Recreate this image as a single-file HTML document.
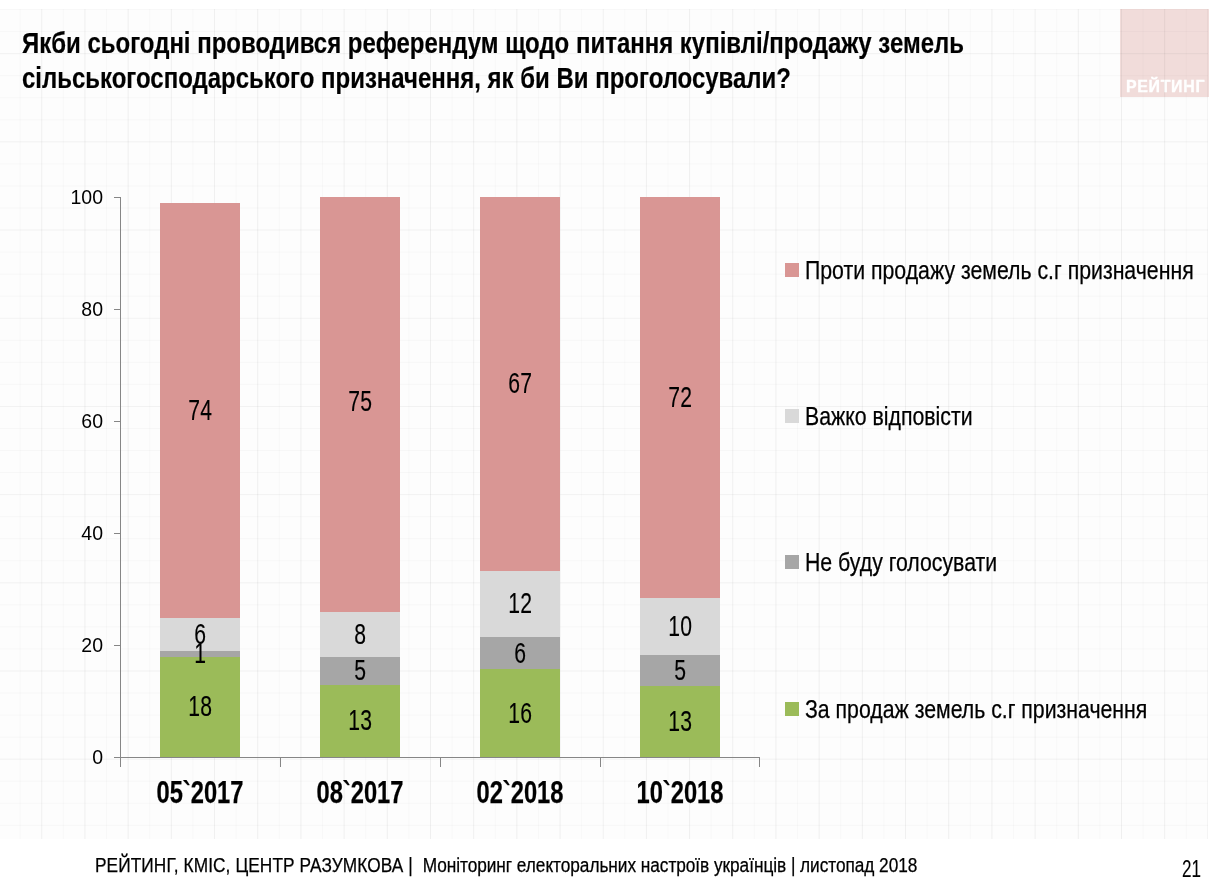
<!DOCTYPE html>
<html lang="uk">
<head>
<meta charset="utf-8">
<title>Рейтинг</title>
<style>
html,body{margin:0;padding:0;background:#fff;}
body{width:1218px;height:880px;position:relative;overflow:hidden;font-family:"Liberation Sans",sans-serif;color:#000;}
#base{position:absolute;left:0;top:9px;width:1208px;height:829.5px;background:#fdfdfd;}
#grid{position:absolute;left:0;top:9px;width:1208px;height:829.5px;
 background-image:
  linear-gradient(to right,rgba(0,0,0,.035) 1px,transparent 1px),
  linear-gradient(to right,rgba(0,0,0,.02) 1px,transparent 1px),
  linear-gradient(to bottom,rgba(0,0,0,.022) 1px,transparent 1px),
  linear-gradient(to bottom,rgba(0,0,0,.025) 1px,transparent 1px);
 background-size:43.2px 43.2px,21.6px 21.6px,22.05px 22.05px,88.2px 88.2px;
 background-position:41.3px 0,19.7px 0,0 .1px,0 44.2px;}
.t{position:absolute;white-space:nowrap;-webkit-text-stroke:.25px #000;transform-origin:0 0;transform:scaleX(.855);line-height:1;}
#title1,#title2{font-weight:bold;font-size:29.33px;transform:scaleX(.8175);-webkit-text-stroke:.2px #000;}
#logo{position:absolute;left:1120px;top:9px;width:88.5px;height:88.2px;background:#f1dcda;}
#logot{position:absolute;left:6px;top:69px;letter-spacing:.7px;color:#fff;font-weight:bold;font-size:16.5px;line-height:1;white-space:nowrap;transform-origin:0 0;transform:scaleX(.965);-webkit-text-stroke:.35px #fff;}
.ax{position:absolute;font-size:20px;transform:scaleX(.975);transform-origin:100% 50%;line-height:1;text-align:right;width:60px;left:43.4px;}
.bar{position:absolute;width:80px;display:flex;align-items:center;justify-content:center;font-size:29px;line-height:1;}
.bar span{-webkit-text-stroke:.15px #000;display:block;position:relative;z-index:2;top:0;transform:scaleX(.729);white-space:nowrap;}
.c1{background:#d99694}.c2{background:#d9d9d9}.c3{background:#a6a6a6}.c4{background:#9bbb59}
.cat{position:absolute;font-size:30.5px;font-weight:bold;line-height:1;width:160px;text-align:center;}
.cat span{-webkit-text-stroke:.25px #000;display:inline-block;transform:scaleX(.777);}
.lg{position:absolute;left:785px;width:14px;height:14px;}
.lt{font-size:26px;left:804.5px;transform:scaleX(.818);}
.ln{position:absolute;background:#868686;}
#foot{font-size:20px;left:94.9px;top:854px;transform:translateY(.5px) scaleX(.863);}
#pg{font-size:23.5px;left:1182.4px;top:858.3px;transform:scaleX(.725);-webkit-text-stroke:.15px #000;}
</style>
</head>
<body>
<div id="base"></div>
<div class="t" id="title1" style="left:22px;top:27.7px;">Якби сьогодні проводився референдум щодо питання купівлі/продажу земель</div>
<div class="t" id="title2" style="left:22px;top:62.9px;">сільськогосподарського призначення, як би Ви проголосували?</div>
<div id="logo"><div id="logot">РЕЙТИНГ</div></div>
<div id="grid"></div>

<!-- axes -->
<div class="ln" style="left:120px;top:197px;width:1px;height:570px;"></div>
<div class="ln" style="left:114px;top:757px;width:646px;height:1px;"></div>
<div class="ln" style="left:114px;top:197px;width:6px;height:1px;"></div>
<div class="ln" style="left:114px;top:309px;width:6px;height:1px;"></div>
<div class="ln" style="left:114px;top:421px;width:6px;height:1px;"></div>
<div class="ln" style="left:114px;top:533px;width:6px;height:1px;"></div>
<div class="ln" style="left:114px;top:645px;width:6px;height:1px;"></div>
<div class="ln" style="left:280px;top:757px;width:1px;height:10px;"></div>
<div class="ln" style="left:440px;top:757px;width:1px;height:10px;"></div>
<div class="ln" style="left:600px;top:757px;width:1px;height:10px;"></div>
<div class="ln" style="left:759px;top:757px;width:1px;height:10px;"></div>

<div class="ax" id="a100" style="top:187.1px;">100</div>
<div class="ax" id="a80" style="top:299.1px;">80</div>
<div class="ax" id="a60" style="top:411.1px;">60</div>
<div class="ax" id="a40" style="top:523.1px;">40</div>
<div class="ax" id="a20" style="top:635.1px;">20</div>
<div class="ax" id="a0" style="top:747.1px;">0</div>

<!-- bars: 5.6px per unit, zero at 757 -->
<!-- bar at x=160 -->
<div class="bar c4" style="left:160px;top:656.6px;height:100.4px;"><span>18</span></div>
<div class="bar c3" style="left:160px;top:651.2px;height:5.4px;"><span>1</span></div>
<div class="bar c2" style="left:160px;top:617.5px;height:33.7px;"><span>6</span></div>
<div class="bar c1" style="left:160px;top:203.0px;height:414.5px;"><span>74</span></div>
<!-- bar at x=320 -->
<div class="bar c4" style="left:320px;top:684.7px;height:72.3px;"><span>13</span></div>
<div class="bar c3" style="left:320px;top:657.0px;height:27.7px;"><span>5</span></div>
<div class="bar c2" style="left:320px;top:612.0px;height:45.0px;"><span>8</span></div>
<div class="bar c1" style="left:320px;top:197.0px;height:415.0px;"><span style="top:-3.5px">75</span></div>
<!-- bar at x=480 -->
<div class="bar c4" style="left:480px;top:669.3px;height:87.7px;"><span>16</span></div>
<div class="bar c3" style="left:480px;top:637.1px;height:32.2px;"><span>6</span></div>
<div class="bar c2" style="left:480px;top:570.8px;height:66.3px;"><span>12</span></div>
<div class="bar c1" style="left:480px;top:197.0px;height:373.8px;"><span>67</span></div>
<!-- bar at x=640 -->
<div class="bar c4" style="left:640px;top:685.5px;height:71.5px;"><span>13</span></div>
<div class="bar c3" style="left:640px;top:655.0px;height:30.5px;"><span>5</span></div>
<div class="bar c2" style="left:640px;top:598.4px;height:56.6px;"><span>10</span></div>
<div class="bar c1" style="left:640px;top:197.0px;height:401.4px;"><span>72</span></div>

<div class="cat" style="left:120.4px;top:777.4px;"><span>05`2017</span></div>
<div class="cat" style="left:280.4px;top:777.4px;"><span>08`2017</span></div>
<div class="cat" style="left:440.4px;top:777.4px;"><span>02`2018</span></div>
<div class="cat" style="left:600.4px;top:777.4px;"><span>10`2018</span></div>

<div class="lg c1" style="top:263.0px;"></div>
<div class="t lt" id="l1" style="top:256.9px;">Проти продажу земель с.г призначення</div>
<div class="lg c2" style="top:409.0px;"></div>
<div class="t lt" id="l2" style="top:402.6px;transform:translateY(-.5px) scaleX(.818);">Важко відповісти</div>
<div class="lg c3" style="top:555.3px;"></div>
<div class="t lt" id="l3" style="top:548.7px;">Не буду голосувати</div>
<div class="lg c4" style="top:702.0px;"></div>
<div class="t lt" id="l4" style="top:695.7px;transform:translateY(-.3px) scaleX(.818);">За продаж земель с.г призначення</div>

<div class="t" id="foot"><span style="letter-spacing:.11px">РЕЙТИНГ, КМІС, ЦЕНТР РАЗУМКОВА |&nbsp; </span><span style="letter-spacing:-.055px">Моніторинг електоральних настроїв українців | листопад 2018</span></div>
<div class="t" id="pg">21</div>
</body>
</html>
